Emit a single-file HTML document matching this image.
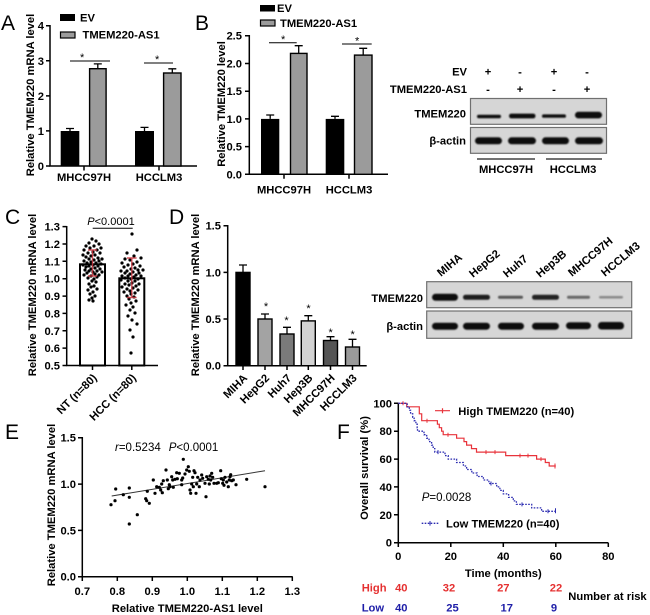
<!DOCTYPE html>
<html><head><meta charset="utf-8"><style>
html,body{margin:0;padding:0;background:#fff;}
svg{display:block;}
text{font-family:"Liberation Sans",Arial,sans-serif;fill:#000;}
.b{font-weight:700;font-size:11.2px;}
.L{font-size:21px;}
.r{text-anchor:end;}
.m{text-anchor:middle;}
.ax{stroke:#000;stroke-width:1.5;fill:none;}
.eb{stroke:#000;stroke-width:1.3;fill:none;}
</style></head><body>
<svg xmlns="http://www.w3.org/2000/svg" width="650" height="615" viewBox="0 0 650 615">
<defs>
<filter id="bl" x="-20%" y="-150%" width="140%" height="400%"><feGaussianBlur stdDeviation="0.9"/></filter>
</defs>

<!-- ============ PANEL A ============ -->
<text class="L" x="1" y="30">A</text>
<rect x="60" y="14" width="15" height="7" fill="#000"/>
<text class="b" x="80" y="21.5">EV</text>
<rect x="60.5" y="32" width="14.5" height="6" fill="#9b9b9b" stroke="#000" stroke-width="1.2"/>
<text class="b" x="82.5" y="38.5">TMEM220-AS1</text>
<text class="b m" transform="translate(34,95) rotate(-90)">Relative TMEM220 mRNA level</text>
<path class="ax" d="M50,25 V166 H197"/>
<path class="ax" d="M46,25.7H50M46,60.8H50M46,95.9H50M46,130.9H50M46,166H50M84,166V170.5M159,166V170.5"/>
<text class="b r" x="44" y="29.7">4</text>
<text class="b r" x="44" y="64.8">3</text>
<text class="b r" x="44" y="99.9">2</text>
<text class="b r" x="44" y="134.9">1</text>
<text class="b r" x="44" y="170">0</text>
<rect x="60.7" y="131" width="18.6" height="35" fill="#000"/>
<rect x="89.6" y="68.7" width="16.5" height="97.3" fill="#9b9b9b" stroke="#000" stroke-width="1.4"/>
<rect x="135" y="131" width="19" height="35" fill="#000"/>
<rect x="163.6" y="73" width="17.4" height="93" fill="#9b9b9b" stroke="#000" stroke-width="1.4"/>
<path class="eb" d="M70,131V128.5M66,128.5H74M97.8,68.7V63.9M93.8,63.9H101.8M144.5,131V127.4M140.5,127.4H148.5M172.3,73V68.8M168.3,68.8H176.3"/>
<path stroke="#000" stroke-width="1" d="M70,61H110M144,63H173"/>
<text x="80" y="61" font-size="11">*</text>
<text x="155" y="63" font-size="11">*</text>
<text class="b m" x="84" y="181">MHCC97H</text>
<text class="b m" x="159" y="181">HCCLM3</text>

<!-- ============ PANEL B ============ -->
<text class="L" x="195" y="30">B</text>
<rect x="260" y="5" width="15" height="6.5" fill="#000"/>
<text class="b" x="277" y="12">EV</text>
<rect x="260.5" y="20" width="14.5" height="6" fill="#9b9b9b" stroke="#000" stroke-width="1.2"/>
<text class="b" x="280" y="27">TMEM220-AS1</text>
<text class="b m" transform="translate(225,104) rotate(-90)">Relative TMEM220 level</text>
<path class="ax" d="M249.3,35 V174.3 H388"/>
<path class="ax" d="M245,35.7H249.3M245,63.5H249.3M245,91.2H249.3M245,118.9H249.3M245,146.6H249.3M245,174.3H249.3M284,174.3V178.8M349,174.3V178.8"/>
<text class="b r" x="242" y="39.7">2.5</text>
<text class="b r" x="242" y="67.5">2.0</text>
<text class="b r" x="242" y="95.2">1.5</text>
<text class="b r" x="242" y="122.9">1.0</text>
<text class="b r" x="242" y="150.6">0.5</text>
<text class="b r" x="242" y="178.3">0.0</text>
<rect x="261" y="118.9" width="18.3" height="55.4" fill="#000"/>
<rect x="290.5" y="53.4" width="16.5" height="120.9" fill="#9b9b9b" stroke="#000" stroke-width="1.4"/>
<rect x="325.7" y="118.9" width="18.6" height="55.4" fill="#000"/>
<rect x="354.5" y="55.1" width="17.5" height="119.2" fill="#9b9b9b" stroke="#000" stroke-width="1.4"/>
<path class="eb" d="M270.2,118.9V115M266.2,115H274.2M298.7,53.4V45.7M294.7,45.7H302.7M335,118.9V116.3M331,116.3H339M363.2,55.1V48.3M359.2,48.3H367.2"/>
<path stroke="#000" stroke-width="1" d="M269,42.7H296.7M342,44H371.7"/>
<text x="281" y="43" font-size="11">*</text>
<text x="355" y="44.3" font-size="11">*</text>
<text class="b m" x="284" y="193.5">MHCC97H</text>
<text class="b m" x="349" y="193.5">HCCLM3</text>

<!-- ============ WESTERN TOP ============ -->
<text class="b r" x="467" y="75.5">EV</text>
<text class="b r" x="467" y="93">TMEM220-AS1</text>
<text class="b m" x="488" y="75.5">+</text>
<text class="b m" x="520" y="75.5">-</text>
<text class="b m" x="554" y="75.5">+</text>
<text class="b m" x="587" y="75.5">-</text>
<text class="b m" x="488" y="93">-</text>
<text class="b m" x="520" y="93">+</text>
<text class="b m" x="554" y="93">-</text>
<text class="b m" x="587" y="93">+</text>
<rect x="470.5" y="98.5" width="136" height="25.8" fill="#d6d6d6" stroke="#707070" stroke-width="1.2"/>
<rect x="470.5" y="127.5" width="136" height="25.8" fill="#d6d6d6" stroke="#707070" stroke-width="1.2"/>
<g fill="#111" filter="url(#bl)">
<rect x="477" y="114.8" width="24" height="3.4" rx="1.7"/>
<rect x="509" y="113.6" width="26.5" height="4.8" rx="2.4"/>
<rect x="542" y="114.4" width="24" height="3.4" rx="1.7"/>
<rect x="575" y="111.8" width="27" height="6.6" rx="3.3"/>
<rect x="475" y="137.3" width="27" height="7" rx="3.5"/>
<rect x="508" y="137.3" width="28" height="7" rx="3.5"/>
<rect x="542" y="137.3" width="27" height="7" rx="3.5"/>
<rect x="575" y="137.3" width="28" height="7" rx="3.5"/>
</g>
<text class="b r" x="466" y="117.5" font-size="10.8">TMEM220</text>
<text class="b r" x="466" y="144.5">β-actin</text>
<path stroke="#444" stroke-width="1.5" d="M477,159H535M546,159H602"/>
<text class="b m" x="506" y="173">MHCC97H</text>
<text class="b m" x="573" y="173">HCCLM3</text>

<!-- ============ PANEL C ============ -->
<text class="L" x="5" y="224">C</text>
<text class="b m" transform="translate(36,295) rotate(-90)">Relative TMEM220 mRNA level</text>
<path class="ax" d="M66.7,226 V365.5 H158"/>
<path class="ax" d="M62.5,226.6H66.7M62.5,244H66.7M62.5,261.3H66.7M62.5,278.7H66.7M62.5,296.1H66.7M62.5,313.4H66.7M62.5,330.8H66.7M62.5,348.1H66.7M62.5,365.5H66.7M92.5,365.5V370M131.8,365.5V370"/>
<text class="b r" x="60" y="230.6">1.3</text>
<text class="b r" x="60" y="248">1.2</text>
<text class="b r" x="60" y="265.3">1.1</text>
<text class="b r" x="60" y="282.7">1.0</text>
<text class="b r" x="60" y="300.1">0.9</text>
<text class="b r" x="60" y="317.4">0.8</text>
<text class="b r" x="60" y="334.8">0.7</text>
<text class="b r" x="60" y="352.1">0.6</text>
<text class="b r" x="60" y="369.5">0.5</text>
<rect x="80" y="264.3" width="25" height="101.2" fill="#fff" stroke="#000" stroke-width="2"/>
<rect x="119.3" y="278.3" width="25" height="87.2" fill="#fff" stroke="#000" stroke-width="2"/>
<g fill="#000">
<circle cx="92" cy="239" r="1.6"/><circle cx="96" cy="241" r="1.6"/><circle cx="89" cy="243" r="1.6"/><circle cx="99" cy="244" r="1.6"/><circle cx="86" cy="246" r="1.6"/><circle cx="94" cy="246" r="1.6"/><circle cx="101" cy="248" r="1.6"/><circle cx="90" cy="248" r="1.6"/><circle cx="84" cy="250" r="1.6"/><circle cx="97" cy="250" r="1.6"/><circle cx="93" cy="252" r="1.6"/><circle cx="88" cy="253" r="1.6"/><circle cx="100" cy="253" r="1.6"/><circle cx="83" cy="255" r="1.6"/><circle cx="95" cy="255" r="1.6"/><circle cx="91" cy="256" r="1.6"/><circle cx="86" cy="257" r="1.6"/><circle cx="98" cy="258" r="1.6"/><circle cx="102" cy="259" r="1.6"/><circle cx="89" cy="259" r="1.6"/><circle cx="94" cy="260" r="1.6"/><circle cx="84" cy="261" r="1.6"/><circle cx="99" cy="261" r="1.6"/><circle cx="91" cy="262" r="1.6"/><circle cx="87" cy="263" r="1.6"/><circle cx="96" cy="263" r="1.6"/><circle cx="101" cy="264" r="1.6"/><circle cx="83" cy="265" r="1.6"/><circle cx="93" cy="265" r="1.6"/><circle cx="89" cy="266" r="1.6"/><circle cx="98" cy="266" r="1.6"/><circle cx="86" cy="267" r="1.6"/><circle cx="95" cy="268" r="1.6"/><circle cx="91" cy="269" r="1.6"/><circle cx="100" cy="269" r="1.6"/><circle cx="85" cy="270" r="1.6"/><circle cx="97" cy="271" r="1.6"/><circle cx="89" cy="271" r="1.6"/><circle cx="93" cy="272" r="1.6"/><circle cx="102" cy="272" r="1.6"/><circle cx="87" cy="273" r="1.6"/><circle cx="95" cy="274" r="1.6"/><circle cx="84" cy="275" r="1.6"/><circle cx="99" cy="275" r="1.6"/><circle cx="91" cy="276" r="1.6"/><circle cx="97" cy="277" r="1.6"/><circle cx="88" cy="278" r="1.6"/><circle cx="94" cy="279" r="1.6"/><circle cx="92" cy="281" r="1.6"/><circle cx="96" cy="282" r="1.6"/><circle cx="89" cy="284" r="1.6"/><circle cx="94" cy="286" r="1.6"/><circle cx="91" cy="287" r="1.6"/><circle cx="97" cy="289" r="1.6"/><circle cx="88" cy="290" r="1.6"/><circle cx="93" cy="292" r="1.6"/><circle cx="90" cy="294" r="1.6"/><circle cx="95" cy="296" r="1.6"/><circle cx="92" cy="298" r="1.6"/><circle cx="89" cy="300" r="1.6"/><circle cx="93" cy="301" r="1.6"/>
<circle cx="132" cy="234" r="1.6"/><circle cx="137" cy="250" r="1.6"/><circle cx="127" cy="253" r="1.6"/><circle cx="134" cy="256" r="1.6"/><circle cx="141" cy="258" r="1.6"/><circle cx="125" cy="259" r="1.6"/><circle cx="130" cy="260" r="1.6"/><circle cx="137" cy="262" r="1.6"/><circle cx="122" cy="263" r="1.6"/><circle cx="133" cy="264" r="1.6"/><circle cx="128" cy="265" r="1.6"/><circle cx="140" cy="266" r="1.6"/><circle cx="124" cy="267" r="1.6"/><circle cx="135" cy="268" r="1.6"/><circle cx="131" cy="269" r="1.6"/><circle cx="138" cy="270" r="1.6"/><circle cx="121" cy="271" r="1.6"/><circle cx="127" cy="271" r="1.6"/><circle cx="143" cy="270" r="1.6"/><circle cx="133" cy="272" r="1.6"/><circle cx="125" cy="273" r="1.6"/><circle cx="139" cy="273" r="1.6"/><circle cx="130" cy="274" r="1.6"/><circle cx="136" cy="275" r="1.6"/><circle cx="122" cy="276" r="1.6"/><circle cx="128" cy="276" r="1.6"/><circle cx="141" cy="276" r="1.6"/><circle cx="134" cy="277" r="1.6"/><circle cx="125" cy="278" r="1.6"/><circle cx="131" cy="279" r="1.6"/><circle cx="138" cy="279" r="1.6"/><circle cx="121" cy="280" r="1.6"/><circle cx="128" cy="281" r="1.6"/><circle cx="135" cy="281" r="1.6"/><circle cx="132" cy="283" r="1.6"/><circle cx="125" cy="284" r="1.6"/><circle cx="139" cy="284" r="1.6"/><circle cx="129" cy="285" r="1.6"/><circle cx="136" cy="286" r="1.6"/><circle cx="122" cy="287" r="1.6"/><circle cx="133" cy="288" r="1.6"/><circle cx="127" cy="289" r="1.6"/><circle cx="138" cy="290" r="1.6"/><circle cx="130" cy="291" r="1.6"/><circle cx="124" cy="292" r="1.6"/><circle cx="135" cy="293" r="1.6"/><circle cx="131" cy="294" r="1.6"/><circle cx="127" cy="296" r="1.6"/><circle cx="134" cy="297" r="1.6"/><circle cx="129" cy="299" r="1.6"/><circle cx="136" cy="301" r="1.6"/><circle cx="131" cy="303" r="1.6"/><circle cx="126" cy="305" r="1.6"/><circle cx="133" cy="307" r="1.6"/><circle cx="130" cy="310" r="1.6"/><circle cx="135" cy="313" r="1.6"/><circle cx="128" cy="316" r="1.6"/><circle cx="132" cy="320" r="1.6"/><circle cx="137" cy="324" r="1.6"/><circle cx="130" cy="330" r="1.6"/><circle cx="133" cy="337" r="1.6"/><circle cx="131" cy="353" r="1.6"/>
</g>
<path stroke="#c8323c" stroke-opacity="0.85" stroke-width="1.4" fill="none" d="M92.5,250V276M88,250H97M88,276H97M131.8,258V297.5M127,258H136.6M127,297.5H136.6"/>
<path stroke="#000" stroke-width="1" d="M92.7,228.3H132.7"/>
<text x="111" y="225" font-size="11" class="m"><tspan font-style="italic">P</tspan>&lt;0.0001</text>
<text class="b r" transform="translate(97.5,378.5) rotate(-45)">NT (n=80)</text>
<text class="b r" transform="translate(136.8,378.5) rotate(-45)">HCC (n=80)</text>

<!-- ============ PANEL D ============ -->
<text class="L" x="169" y="224">D</text>
<text class="b m" transform="translate(199,295) rotate(-90)">Relative TMEM220 mRNA level</text>
<path class="ax" d="M227.7,225 V365.7 H366.7"/>
<path class="ax" d="M223.5,225.7H227.7M223.5,272.4H227.7M223.5,319H227.7M223.5,365.7H227.7M243,365.7V370M265,365.7V370M287,365.7V370M308.3,365.7V370M330.5,365.7V370M352.5,365.7V370"/>
<text class="b r" x="221" y="229.7">1.5</text>
<text class="b r" x="221" y="276.4">1.0</text>
<text class="b r" x="221" y="323">0.5</text>
<text class="b r" x="221" y="369.7">0.0</text>
<g stroke="#000" stroke-width="1.4">
<rect x="236" y="272.4" width="14" height="93.3" fill="#000"/>
<rect x="258" y="319" width="14" height="46.7" fill="#a3a3a3"/>
<rect x="280" y="334" width="14" height="31.7" fill="#7a7a7a"/>
<rect x="301.3" y="320.9" width="14" height="44.8" fill="#d3d3d3"/>
<rect x="323.5" y="340.5" width="14" height="25.2" fill="#555"/>
<rect x="345.5" y="347" width="14" height="18.7" fill="#9a9a9a"/>
</g>
<path class="eb" d="M243,272.4V265M239,265H247M265,319V314M261,314H269M287,334V327.3M283,327.3H291M308.3,320.9V315.7M304.3,315.7H312.3M330.5,340.5V336.7M326.5,336.7H334.5M352.5,347V339.3M348.5,339.3H356.5"/>
<text class="m" x="266" y="310.2" font-size="11">*</text>
<text class="m" x="286.5" y="324" font-size="11">*</text>
<text class="m" x="308.5" y="312.2" font-size="11">*</text>
<text class="m" x="330.7" y="336.2" font-size="11">*</text>
<text class="m" x="352.7" y="338" font-size="11">*</text>
<text class="b r" transform="translate(248,378.7) rotate(-45)">MIHA</text>
<text class="b r" transform="translate(270,378.7) rotate(-45)">HepG2</text>
<text class="b r" transform="translate(292,378.7) rotate(-45)">Huh7</text>
<text class="b r" transform="translate(313.3,378.7) rotate(-45)">Hep3B</text>
<text class="b r" transform="translate(335.5,378.7) rotate(-45)">MHCC97H</text>
<text class="b r" transform="translate(357.5,378.7) rotate(-45)">HCCLM3</text>

<!-- ============ WESTERN D ============ -->
<text class="b" font-size="10.5" transform="translate(441,277) rotate(-40)">MIHA</text>
<text class="b" font-size="10.5" transform="translate(473,278) rotate(-40)">HepG2</text>
<text class="b" font-size="10.5" transform="translate(507,278) rotate(-40)">Huh7</text>
<text class="b" font-size="10.5" transform="translate(540,278) rotate(-40)">Hep3B</text>
<text class="b" font-size="10.5" transform="translate(572,277) rotate(-40)">MHCC97H</text>
<text class="b" font-size="10.5" transform="translate(605,277) rotate(-40)">HCCLM3</text>
<rect x="426.7" y="281.7" width="205" height="26" fill="#d6d6d6" stroke="#707070" stroke-width="1.2"/>
<rect x="426.7" y="311" width="205" height="27.3" fill="#d6d6d6" stroke="#707070" stroke-width="1.2"/>
<g filter="url(#bl)">
<rect x="432" y="293.8" width="26" height="7" rx="3.5" fill="#111"/>
<rect x="463" y="294.8" width="27" height="5" rx="2.5" fill="#1a1a1a"/>
<rect x="498" y="295.8" width="25" height="3" rx="1.5" fill="#555"/>
<rect x="532" y="294.8" width="27" height="5" rx="2.5" fill="#222"/>
<rect x="567" y="295.8" width="23" height="3" rx="1.5" fill="#666"/>
<rect x="599" y="296" width="24" height="2.5" rx="1.2" fill="#888"/>
<rect x="432" y="322.7" width="26" height="7" rx="3.5" fill="#111"/>
<rect x="463" y="322.7" width="27" height="7" rx="3.5" fill="#111"/>
<rect x="498" y="322.7" width="26" height="7" rx="3.5" fill="#111"/>
<rect x="532" y="322.7" width="27" height="7" rx="3.5" fill="#111"/>
<rect x="566" y="322.2" width="25" height="7" rx="3.5" fill="#111"/>
<rect x="598" y="322" width="26" height="7.5" rx="3.5" fill="#111"/>
</g>
<text class="b r" x="423" y="302" font-size="10.6">TMEM220</text>
<text class="b r" x="423" y="330">β-actin</text>

<!-- ============ PANEL E ============ -->
<text class="L" x="5" y="439">E</text>
<text class="b m" transform="translate(55,505) rotate(-90)">Relative TMEM220 mRNA level</text>
<path class="ax" d="M82.3,437 V576.7 H292.7"/>
<path class="ax" d="M78,437.7H82.3M78,484.1H82.3M78,530.4H82.3M78,576.7H82.3M82.3,576.7V581M117.3,576.7V581M152.3,576.7V581M187.3,576.7V581M222.3,576.7V581M257.3,576.7V581M292.3,576.7V581"/>
<text class="b r" x="76" y="441.7">1.5</text>
<text class="b r" x="76" y="488.1">1.0</text>
<text class="b r" x="76" y="534.4">0.5</text>
<text class="b r" x="76" y="580.7">0.0</text>
<text class="b m" x="82.3" y="595">0.7</text>
<text class="b m" x="117.3" y="595">0.8</text>
<text class="b m" x="152.3" y="595">0.9</text>
<text class="b m" x="187.3" y="595">1.0</text>
<text class="b m" x="222.3" y="595">1.1</text>
<text class="b m" x="257.3" y="595">1.2</text>
<text class="b m" x="292.3" y="595">1.3</text>
<text class="b m" x="187.3" y="612">Relative TMEM220-AS1 level</text>
<text x="115" y="451" font-size="11.5"><tspan font-style="italic">r</tspan>=0.5234<tspan dx="8" font-style="italic">P</tspan>&lt;0.0001</text>
<path stroke="#333" stroke-width="1" d="M111.7,496L265,470.7"/>
<g fill="#000">
<circle cx="111" cy="504.7" r="1.6"/><circle cx="115" cy="500.7" r="1.6"/><circle cx="115.7" cy="489" r="1.6"/><circle cx="123.3" cy="494.7" r="1.6"/><circle cx="129.3" cy="488" r="1.6"/><circle cx="129.3" cy="497.3" r="1.6"/><circle cx="129.3" cy="524" r="1.6"/><circle cx="137.3" cy="514.7" r="1.6"/><circle cx="145.7" cy="498.7" r="1.6"/><circle cx="146.7" cy="500.7" r="1.6"/><circle cx="147.3" cy="491.3" r="1.6"/><circle cx="149.3" cy="503.3" r="1.6"/><circle cx="153.3" cy="480" r="1.6"/><circle cx="155" cy="493.3" r="1.6"/><circle cx="156.7" cy="486.7" r="1.6"/><circle cx="159.3" cy="487.3" r="1.6"/><circle cx="160.7" cy="490" r="1.6"/><circle cx="162.3" cy="492.7" r="1.6"/><circle cx="161.7" cy="484" r="1.6"/><circle cx="163.3" cy="480.7" r="1.6"/><circle cx="166" cy="470" r="1.6"/><circle cx="167.3" cy="480" r="1.6"/><circle cx="168.3" cy="488.7" r="1.6"/><circle cx="169.3" cy="484.7" r="1.6"/><circle cx="170" cy="486.7" r="1.6"/><circle cx="171.7" cy="476.7" r="1.6"/><circle cx="172.7" cy="480" r="1.6"/><circle cx="173.3" cy="487.3" r="1.6"/><circle cx="175" cy="479.3" r="1.6"/><circle cx="176.7" cy="472.7" r="1.6"/><circle cx="177.3" cy="478.7" r="1.6"/><circle cx="179.3" cy="473.3" r="1.6"/><circle cx="181.7" cy="480" r="1.6"/><circle cx="181.7" cy="484.7" r="1.6"/><circle cx="182.7" cy="478" r="1.6"/><circle cx="183.3" cy="459.3" r="1.6"/><circle cx="185" cy="474" r="1.6"/><circle cx="186.7" cy="470" r="1.6"/><circle cx="188.3" cy="466.7" r="1.6"/><circle cx="189.3" cy="471.3" r="1.6"/><circle cx="190" cy="490" r="1.6"/><circle cx="190.7" cy="493.3" r="1.6"/><circle cx="191.7" cy="484" r="1.6"/><circle cx="192.7" cy="477.3" r="1.6"/><circle cx="193.3" cy="486.7" r="1.6"/><circle cx="194" cy="470.7" r="1.6"/><circle cx="195" cy="472.7" r="1.6"/><circle cx="196" cy="493.3" r="1.6"/><circle cx="196.7" cy="484" r="1.6"/><circle cx="197.7" cy="477.3" r="1.6"/><circle cx="199.3" cy="486.7" r="1.6"/><circle cx="200" cy="480" r="1.6"/><circle cx="201.7" cy="475" r="1.6"/><circle cx="202.7" cy="478.3" r="1.6"/><circle cx="205" cy="483.3" r="1.6"/><circle cx="206" cy="496.7" r="1.6"/><circle cx="206.7" cy="476.7" r="1.6"/><circle cx="208.3" cy="479.3" r="1.6"/><circle cx="209.3" cy="484" r="1.6"/><circle cx="210" cy="476" r="1.6"/><circle cx="210.7" cy="480" r="1.6"/><circle cx="211.7" cy="473.3" r="1.6"/><circle cx="212.7" cy="477.3" r="1.6"/><circle cx="214" cy="483.3" r="1.6"/><circle cx="216.7" cy="483.3" r="1.6"/><circle cx="218.3" cy="482.7" r="1.6"/><circle cx="220.7" cy="470.7" r="1.6"/><circle cx="221.3" cy="478.7" r="1.6"/><circle cx="222.7" cy="483.3" r="1.6"/><circle cx="223.3" cy="480" r="1.6"/><circle cx="224" cy="485.3" r="1.6"/><circle cx="225" cy="477.3" r="1.6"/><circle cx="226.7" cy="482" r="1.6"/><circle cx="228.3" cy="486.7" r="1.6"/><circle cx="229.3" cy="480" r="1.6"/><circle cx="230" cy="476.7" r="1.6"/><circle cx="230.7" cy="474.7" r="1.6"/><circle cx="231.7" cy="480.7" r="1.6"/><circle cx="233.3" cy="480" r="1.6"/><circle cx="236" cy="484.7" r="1.6"/><circle cx="246.7" cy="479.3" r="1.6"/><circle cx="265" cy="486.7" r="1.6"/>
</g>

<!-- ============ PANEL F ============ -->
<text class="L" x="337" y="439">F</text>
<text class="b m" font-size="12.5" transform="translate(368,468) rotate(-90)">Overall survival (%)</text>
<path class="ax" d="M398.3,403 V542.7 H608.3"/>
<path class="ax" d="M394,403.3H398.3M394,431.2H398.3M394,459.1H398.3M394,486.9H398.3M394,514.8H398.3M394,542.7H398.3M398.3,542.7V547M450.8,542.7V547M503.3,542.7V547M555.8,542.7V547M608.3,542.7V547"/>
<text class="b r" x="392" y="407.3">100</text>
<text class="b r" x="392" y="435.2">80</text>
<text class="b r" x="392" y="463.1">60</text>
<text class="b r" x="392" y="490.9">40</text>
<text class="b r" x="392" y="518.8">20</text>
<text class="b r" x="392" y="546.7">0</text>
<text class="b m" x="398.3" y="560">0</text>
<text class="b m" x="450.8" y="560">20</text>
<text class="b m" x="503.3" y="560">40</text>
<text class="b m" x="555.8" y="560">60</text>
<text class="b m" x="608.3" y="560">80</text>
<text class="b m" x="503.3" y="577">Time (months)</text>
<path fill="none" stroke="#e8333b" stroke-width="1.2" d="M398.3,403.3 H406.7 V406.8 H419.3 V413.8 H421.7 V420.7 H437.4 V424.2 H439.3 V427.7 H441.6 V431.2 H443.2 V434.7 H456.6 V438.2 H464 V441.6 H466.6 V445.1 H471.5 V448.6 H476.5 V452.1 H505.7 V455.6 H536.6 V459.1 H545.3 V462.5 H549.2 V466 H555.8"/>
<path fill="none" stroke="#e8333b" stroke-width="1" d="M403,401.3V405.3M427,418.7V422.7M448,432.7V436.7M486,450.1V454.1M495,450.1V454.1M520,453.6V457.6M528,453.6V457.6M541,457.1V461.1M555,463.5V468.5"/>
<path fill="none" stroke="#2a2ab0" stroke-width="1.3" stroke-dasharray="1.6,1.4" d="M398.3,403.3 H407.2 V406.8 H409.3 V410.3 H410.6 V413.8 H412.7 V417.2 H414.1 V420.7 H415.9 V424.2 H417.2 V427.7 H417.5 V431.2 H424 V434.7 H426.7 V438.2 H429 V441.6 H431.6 V445.1 H433.2 V448.6 H434.8 V452.1 H445 V455.6 H448.2 V459.1 H456.6 V462.5 H463.4 V466 H466.6 V469.5 H471.8 V473 H477.1 V476.5 H483.4 V480 H488.9 V483.5 H496.7 V486.9 H499.9 V490.4 H503.3 V493.9 H508.6 V497.4 H513.3 V500.9 H516.4 V504.4 H531.7 V507.9 H541.6 V511.3 H555.8"/>
<path fill="none" stroke="#2a2ab0" stroke-width="1" d="M438,450.1V454.1M491,481.5V485.5M522,502.4V506.4M548,509.3V513.3M555.5,508.3V513.3"/>
<path stroke="#e8333b" stroke-width="1.2" d="M435,410.7H450M442.5,408.2V413.2"/>
<text class="b" x="458.3" y="415">High TMEM220 (n=40)</text>
<path stroke="#2a2ab0" stroke-width="1.3" stroke-dasharray="1.6,1.4" d="M421.7,523.3H438.3"/>
<path stroke="#2a2ab0" stroke-width="1" d="M430,521V525.6"/>
<text class="b" x="446" y="527.5">Low TMEM220 (n=40)</text>
<text x="421.7" y="501" font-size="11.5"><tspan font-style="italic">P</tspan>=0.0028</text>
<text class="b" x="361.7" y="591.5" style="fill:#e53030">High</text>
<text class="b m" x="401.3" y="591.5" style="fill:#e53030">40</text>
<text class="b m" x="449" y="591.5" style="fill:#e53030">32</text>
<text class="b m" x="503.3" y="591.5" style="fill:#e53030">27</text>
<text class="b m" x="556" y="591.5" style="fill:#e53030">22</text>
<text class="b" x="361.7" y="611.5" style="fill:#1e1ea8">Low</text>
<text class="b m" x="401.3" y="611.5" style="fill:#1e1ea8">40</text>
<text class="b m" x="452.5" y="611.5" style="fill:#1e1ea8">25</text>
<text class="b m" x="506.7" y="611.5" style="fill:#1e1ea8">17</text>
<text class="b m" x="554" y="611.5" style="fill:#1e1ea8">9</text>
<text class="b" x="568.3" y="600">Number at risk</text>
</svg>
</body></html>
